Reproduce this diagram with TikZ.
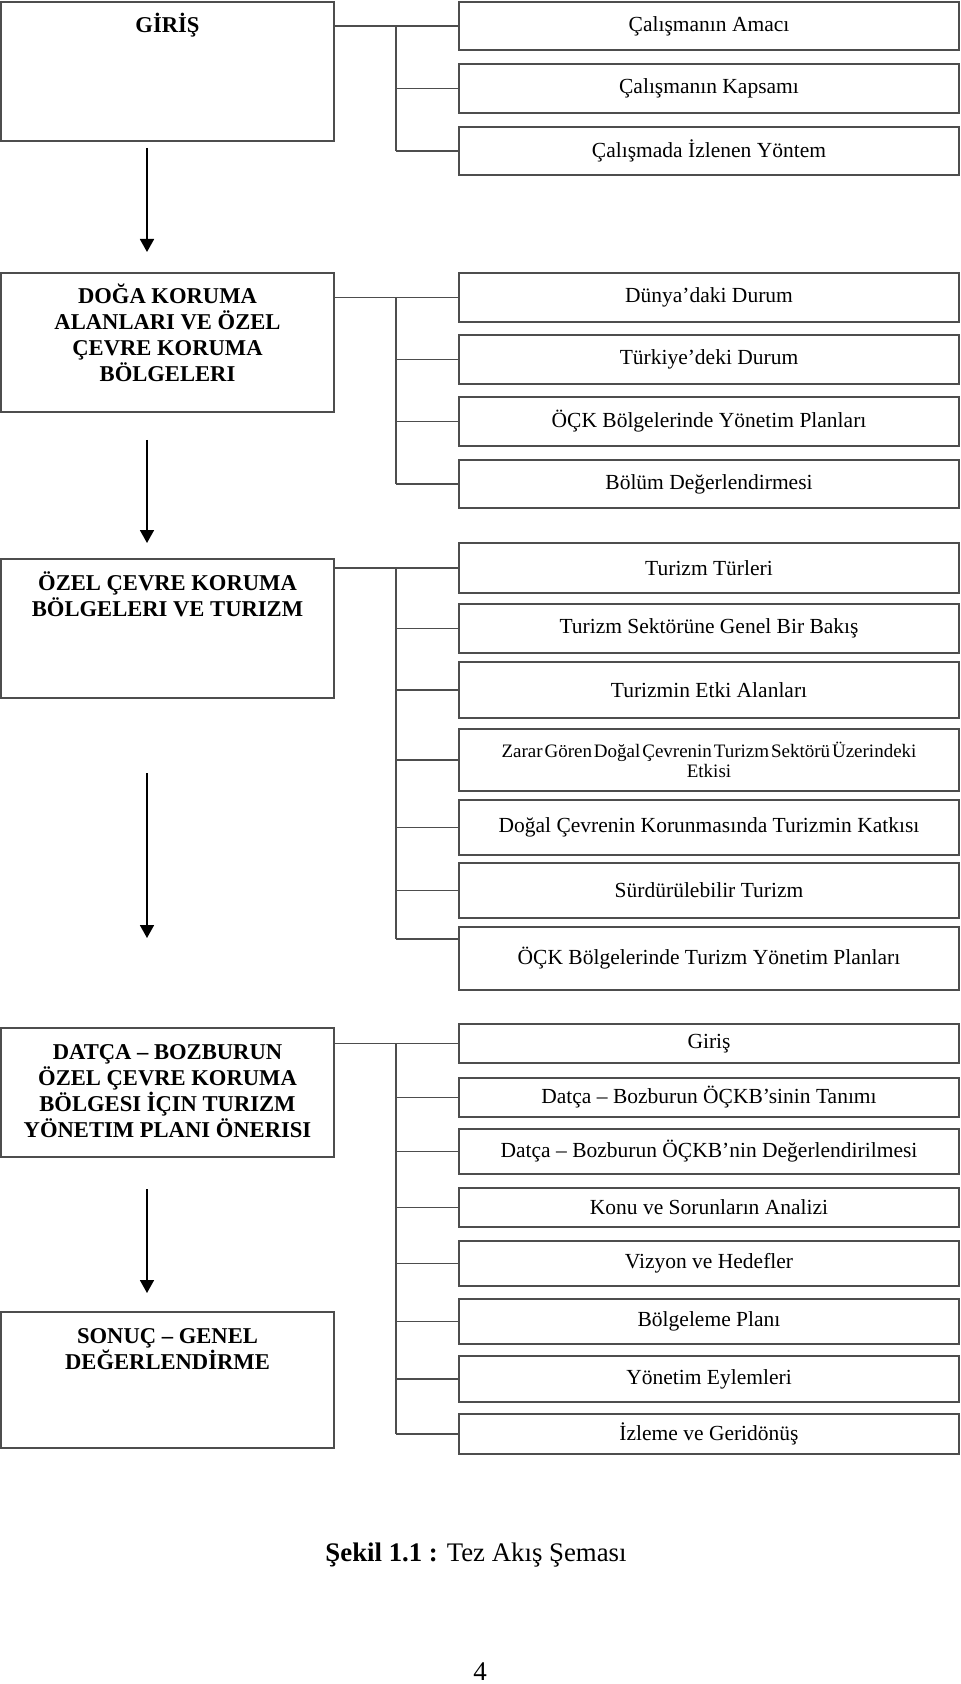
\documentclass[tikz,border=0pt]{standalone}
\usepackage{fontspec}
\setmainfont{Liberation Serif}
\usetikzlibrary{arrows.meta}
\definecolor{framegray}{HTML}{4D4D4D}
\newcommand{\capstrut}{\rule{0pt}{1em}}
\newcommand{\tightsp}{\spaceskip=0.1em\relax}

\begin{document}
\begin{tikzpicture}[
    x=0.5pt, y=-0.5pt,
    >={Triangle[length=6.5pt,width=7pt]},
    part/.style={draw=framegray, line width=1pt, minimum width=166.5pt, inner sep=0pt},
    parttitle/.style={anchor=north, align=center, inner sep=0pt,
        font=\bfseries\fontsize{11.3}{13}\selectfont},
    item/.style={draw=framegray, line width=1pt, minimum width=250pt, inner sep=0pt,
        align=center, font=\fontsize{10.75}{12}\selectfont},
    branch/.style={draw=framegray, line width=0.85pt},
    flow/.style={->, draw=black, line width=0.9pt}]

    \path[use as bounding box, fill=white] (0,0) rectangle (960,1684);

    % left column
    \node[part, minimum height=69.5pt] (giris) at (167.5,71.5) {};
    \node[part, minimum height=69.5pt] (doga) at (167.5,342.5) {};
    \node[part, minimum height=69.5pt] (ozel) at (167.5,628.5) {};
    \node[part, minimum height=64.5pt] (datca) at (167.5,1092.5) {};
    \node[part, minimum height=68pt] (sonuc) at (167.5,1380) {};

    \node[parttitle] (girist) at ([yshift=-4.5pt]giris.north) {\capstrut GİRİŞ};
    \node[parttitle] (dogat) at ([yshift=-4.5pt]doga.north)
        {\capstrut DOĞA KORUMA\\ALANLARI VE ÖZEL\\ÇEVRE KORUMA\\BÖLGELERI};
    \node[parttitle] (ozelt) at ([yshift=-4.5pt]ozel.north)
        {\capstrut ÖZEL ÇEVRE KORUMA\\BÖLGELERI VE TURIZM};
    \node[parttitle] (datcat) at ([yshift=-4.5pt]datca.north)
        {\capstrut DATÇA – BOZBURUN\\ÖZEL ÇEVRE KORUMA\\BÖLGESI İÇIN TURIZM\\YÖNETIM PLANI ÖNERISI};
    \node[parttitle] (sonuct) at ([yshift=-4.5pt]sonuc.north)
        {\capstrut SONUÇ – GENEL\\DEĞERLENDİRME};

    % right column
    \node[item, minimum height=24pt] (amac) at (709,26) {Çalışmanın Amacı};
    \node[item, minimum height=24.5pt] (kapsam) at (709,88.5) {Çalışmanın Kapsamı};
    \node[item, minimum height=24pt] (yontem) at (709,151) {Çalışmada İzlenen Yöntem};

    \node[item, minimum height=24.5pt] (dunya) at (709,297.5) {Dünya’daki Durum};
    \node[item, minimum height=24.5pt] (turkiye) at (709,359.5) {Türkiye’deki Durum};
    \node[item, minimum height=24.5pt] (ockyp) at (709,421.5) {ÖÇK Bölgelerinde Yönetim Planları};
    \node[item, minimum height=24pt] (bolum) at (709,484) {Bölüm Değerlendirmesi};

    \node[item, minimum height=25pt] (turler) at (709,568) {Turizm Türleri};
    \node[item, minimum height=24.5pt] (sektor) at (709,628.5) {Turizm Sektörüne Genel Bir Bakış};
    \node[item, minimum height=28pt] (etki) at (709,690) {Turizmin Etki Alanları};
    \node[item, minimum height=31pt, font=\fontsize{9.5}{10}\selectfont\tightsp] (zarar) at (709,760)
        {Zarar Gören Doğal Çevrenin Turizm Sektörü Üzerindeki\\Etkisi};
    \node[item, minimum height=27.5pt] (katki) at (709,827.5) {Doğal Çevrenin Korunmasında Turizmin Katkısı};
    \node[item, minimum height=27.5pt] (surd) at (709,890.5) {Sürdürülebilir Turizm};
    \node[item, minimum height=31.5pt] (ockty) at (709,958.5) {ÖÇK Bölgelerinde Turizm Yönetim Planları};

    \node[item, minimum height=19.5pt] (girisb) at (709,1043.5) {Giriş};
    \node[item, minimum height=19.5pt] (tanim) at (709,1097.5) {Datça – Bozburun ÖÇKB’sinin Tanımı};
    \node[item, minimum height=22.5pt] (degr) at (709,1151.5) {Datça – Bozburun ÖÇKB’nin Değerlendirilmesi};
    \node[item, minimum height=19.5pt] (konu) at (709,1207.5) {Konu ve Sorunların Analizi};
    \node[item, minimum height=22.5pt] (vizyon) at (709,1263.5) {Vizyon ve Hedefler};
    \node[item, minimum height=22.5pt] (bolgeleme) at (709,1321.5) {Bölgeleme Planı};
    \node[item, minimum height=23pt] (eylem) at (709,1379) {Yönetim Eylemleri};
    \node[item, minimum height=20pt] (izleme) at (709,1434) {İzleme ve Geridönüş};

    % branches
    \draw[branch] (amac.west) -- (amac.west -| giris.east);
    \draw[branch] ([xshift=-31pt]amac.west) -- ([xshift=-31pt]yontem.west);
    \draw[branch] (kapsam.west) -- ++(-62,0);
    \draw[branch] (yontem.west) -- ++(-62,0);

    \draw[branch] (dunya.west) -- (dunya.west -| doga.east);
    \draw[branch] ([xshift=-31pt]dunya.west) -- ([xshift=-31pt]bolum.west);
    \draw[branch] (turkiye.west) -- ++(-62,0);
    \draw[branch] (ockyp.west) -- ++(-62,0);
    \draw[branch] (bolum.west) -- ++(-62,0);

    \draw[branch] (turler.west) -- (turler.west -| ozel.east);
    \draw[branch] ([xshift=-31pt]turler.west) -- ([xshift=-31pt,yshift=9.75pt]ockty.west);
    \draw[branch] (sektor.west) -- ++(-62,0);
    \draw[branch] (etki.west) -- ++(-62,0);
    \draw[branch] (zarar.west) -- ++(-62,0);
    \draw[branch] (katki.west) -- ++(-62,0);
    \draw[branch] (surd.west) -- ++(-62,0);
    \draw[branch] ([yshift=9.75pt]ockty.west) -- ++(-62,0);

    \draw[branch] (girisb.west) -- (girisb.west -| datca.east);
    \draw[branch] ([xshift=-31pt]girisb.west) -- ([xshift=-31pt]izleme.west);
    \draw[branch] (tanim.west) -- ++(-62,0);
    \draw[branch] (degr.west) -- ++(-62,0);
    \draw[branch] (konu.west) -- ++(-62,0);
    \draw[branch] (vizyon.west) -- ++(-62,0);
    \draw[branch] (bolgeleme.west) -- ++(-62,0);
    \draw[branch] (eylem.west) -- ++(-62,0);
    \draw[branch] (izleme.west) -- ++(-62,0);

    % flow arrows
    \coordinate (f1a) at (147,148);  \coordinate (f1b) at (147,252);
    \coordinate (f2a) at (147,440);  \coordinate (f2b) at (147,543);
    \coordinate (f3a) at (147,773);  \coordinate (f3b) at (147,938);
    \coordinate (f4a) at (147,1189); \coordinate (f4b) at (147,1293);
    \draw[flow] (f1a) -- (f1b);
    \draw[flow] (f2a) -- (f2b);
    \draw[flow] (f3a) -- (f3b);
    \draw[flow] (f4a) -- (f4b);

    \node[font=\fontsize{13.4}{16}\selectfont] (caption) at (476,1555)
        {\textbf{Şekil 1.1 :} Tez Akış Şeması};
    \node[font=\fontsize{13.5}{16}\selectfont] (pageno) at (480,1672) {4};

\end{tikzpicture}
\end{document}
